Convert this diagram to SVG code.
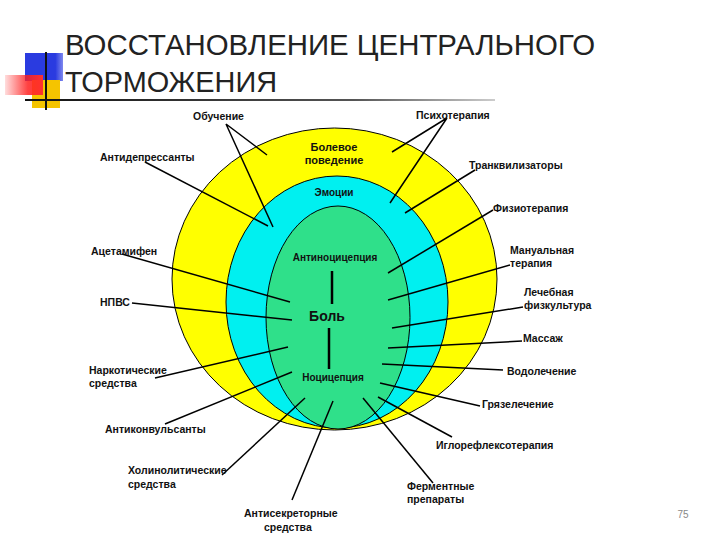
<svg xmlns="http://www.w3.org/2000/svg" width="720" height="540" viewBox="0 0 720 540">
<style>
.lbl{font-family:"Liberation Sans",Arial,sans-serif;font-size:10.5px;font-weight:bold;fill:#111}
.in{font-family:"Liberation Sans",Arial,sans-serif;font-size:10px;font-weight:bold;fill:#111;text-anchor:middle}
.ttl{font-family:"Liberation Sans",Arial,sans-serif;font-size:29px;fill:#222}
.ln{stroke:#000;stroke-width:1.5;fill:none}
.ring{stroke:#000;stroke-width:1}
</style>
<defs>
<linearGradient id="red" x1="0" y1="0" x2="1" y2="0">
<stop offset="0" stop-color="#ff2020" stop-opacity="0.15"/>
<stop offset="0.6" stop-color="#ff2020" stop-opacity="0.85"/>
<stop offset="1" stop-color="#ff3030"/>
</linearGradient>
<linearGradient id="blue" x1="0" y1="0" x2="1" y2="0">
<stop offset="0" stop-color="#2a3be0"/>
<stop offset="0.8" stop-color="#2a3be0"/>
<stop offset="1" stop-color="#7f88ee"/>
</linearGradient>
<linearGradient id="rule" x1="0" y1="0" x2="1" y2="0">
<stop offset="0" stop-color="#111"/>
<stop offset="0.7" stop-color="#555"/>
<stop offset="1" stop-color="#ccc"/>
</linearGradient>
</defs>
<rect width="720" height="540" fill="#fff"/>
<g id="logo">
<rect x="25" y="53" width="38" height="28" fill="url(#blue)"/>
<rect x="32" y="80" width="28" height="28" fill="#f5c400"/>
<rect x="5" y="75" width="38" height="20" fill="url(#red)"/>
<line x1="46" y1="52" x2="46" y2="110" stroke="#111" stroke-width="2"/>
<rect x="25" y="99" width="470" height="2" fill="url(#rule)"/>
</g>
<g id="title">
<text class="ttl" x="65" y="55" textLength="530" lengthAdjust="spacingAndGlyphs">ВОССТАНОВЛЕНИЕ ЦЕНТРАЛЬНОГО</text>
<text class="ttl" x="65" y="92" textLength="212" lengthAdjust="spacingAndGlyphs">ТОРМОЖЕНИЯ</text>
</g>
<g id="rings">
<ellipse id="outer" class="ring" cx="334.5" cy="279" rx="162.5" ry="151" fill="#ffff00"/>
<ellipse id="middle" class="ring" cx="337" cy="302" rx="111" ry="126" fill="#00f0f0"/>
<ellipse id="inner" class="ring" cx="338" cy="317.5" rx="72" ry="111.5" fill="#2fe08a"/>
</g>
<g id="connectors">
<path class="ln" d="M226 124 L267 155 M226 124 L273 227"/>
<path class="ln" d="M145 162 L268 226"/>
<path class="ln" d="M122 254 L290 302"/>
<path class="ln" d="M132 303 L292 320"/>
<path class="ln" d="M155 378 L288 347"/>
<path class="ln" d="M165 424 L292 372"/>
<path class="ln" d="M222 475 L305 398"/>
<path class="ln" d="M292 500 L333 401"/>
<path class="ln" d="M447 118 L392 152 M447 118 L390 203"/>
<path class="ln" d="M475 170 L405 213"/>
<path class="ln" d="M493 210 L388 273"/>
<path class="ln" d="M510 265 L388 300"/>
<path class="ln" d="M523 307 L392 328"/>
<path class="ln" d="M522 341 L388 348"/>
<path class="ln" d="M503 370 L382 364"/>
<path class="ln" d="M480 406 L380 383"/>
<path class="ln" d="M452 437 L378 397"/>
<path class="ln" d="M433 483 L363 398"/>
<path stroke="#000" stroke-width="2.5" d="M332 271 L332 304 M329 328 L329 369"/>
</g>
<g id="inner-labels">
<text class="in" x="334" y="151" style="font-size:11px">Болевое</text>
<text class="in" x="334" y="164" style="font-size:11px">поведение</text>
<text class="in" x="334" y="196">Эмоции</text>
<text class="in" x="335" y="261">Антиноцицепция</text>
<text class="in" x="327" y="321" style="font-size:14px">Боль</text>
<text class="in" x="333" y="381">Ноцицепция</text>
</g>
<g id="labels">
<text class="lbl" x="193" y="120">Обучение</text>
<text class="lbl" x="100" y="161">Антидепрессанты</text>
<text class="lbl" x="91" y="255">Ацетамифен</text>
<text class="lbl" x="100" y="306">НПВС</text>
<text class="lbl" x="89" y="374">Наркотические</text>
<text class="lbl" x="89" y="387">средства</text>
<text class="lbl" x="105" y="433">Антиконвульсанты</text>
<text class="lbl" x="128" y="474">Холинолитические</text>
<text class="lbl" x="128" y="488">средства</text>
<text class="lbl" x="244" y="517">Антисекреторные</text>
<text class="lbl" x="264" y="531">средства</text>
<text class="lbl" x="416" y="119">Психотерапия</text>
<text class="lbl" x="469" y="169">Транквилизаторы</text>
<text class="lbl" x="493" y="212">Физиотерапия</text>
<text class="lbl" x="510" y="254">Мануальная</text>
<text class="lbl" x="510" y="267">терапия</text>
<text class="lbl" x="524" y="296">Лечебная</text>
<text class="lbl" x="524" y="309">физкультура</text>
<text class="lbl" x="523" y="342">Массаж</text>
<text class="lbl" x="507" y="375">Водолечение</text>
<text class="lbl" x="482" y="408">Грязелечение</text>
<text class="lbl" x="436" y="449">Иглорефлексотерапия</text>
<text class="lbl" x="407" y="490">Ферментные</text>
<text class="lbl" x="407" y="503">препараты</text>
</g>
<text x="683" y="518" font-family="Liberation Sans,Arial,sans-serif" font-size="10" fill="#888" text-anchor="middle">75</text>
</svg>
